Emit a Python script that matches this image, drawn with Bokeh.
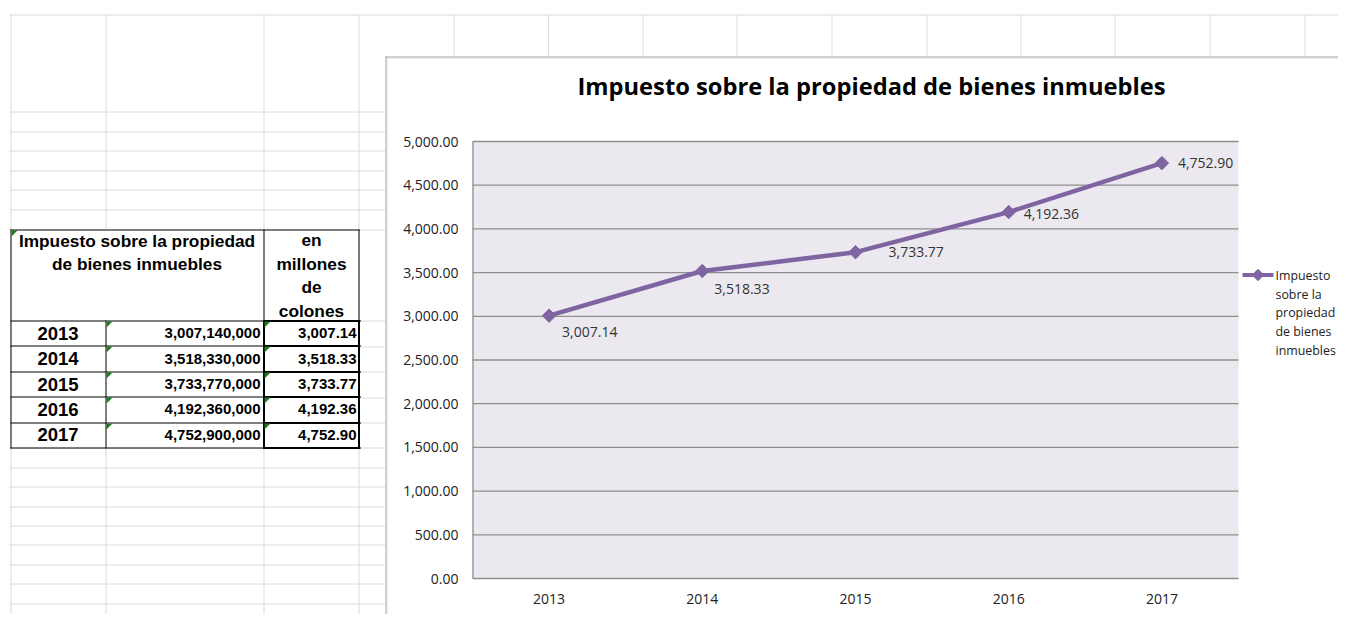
import math
from bokeh.plotting import figure
from bokeh.models import Range1d, ColumnDataSource
from bokeh.core.properties import value
from bokeh.embed import file_html
from bokeh.resources import INLINE

# ---------------- data ----------------
years = [2013, 2014, 2015, 2016, 2017]
colones = [3007140000, 3518330000, 3733770000, 4192360000, 4752900000]
millones = [3007.14, 3518.33, 3733.77, 4192.36, 4752.90]
y_ticks = [0, 500, 1000, 1500, 2000, 2500, 3000, 3500, 4000, 4500, 5000]
chart_title = "Impuesto sobre la propiedad de bienes inmuebles"
legend_text = "Impuesto\nsobre la\npropiedad\nde bienes\ninmuebles"
head_ab = "Impuesto sobre la propiedad\nde bienes inmuebles"
head_c = "en\nmillones\nde\ncolones"

# ---------------- layout (picture pixels) ----------------
FW, FH = 1338, 614                             # figure size
PL, PR, PT, PB = 472, 1238, 141, 578          # plot area
CHX, CHY = 385, 56                             # chart object corner
PURPLE = "#8064A2"
GRID = "#dadada"
CHART_FONT = value("Open Sans")
TABLE_FONT = value("Liberation Sans")

cat_w = (PR - PL) / len(years)
x0 = PL + cat_w / 2
yr_start = years[0] + (0 - x0) / cat_w
yr_end = years[0] + (FW - x0) / cat_w
vpp = y_ticks[-1] / (PB - PT)
val_start = 0 - (FH - PB) * vpp
val_end = y_ticks[-1] + (PT - 0) * vpp

p = figure(width=FW, height=FH,
           x_range=Range1d(0, FW), y_range=Range1d(FH, 0),
           x_axis_type=None, y_axis_type=None,
           output_backend="svg", toolbar_location=None, min_border=0)
p.outline_line_color = None
p.background_fill_color = "white"
p.border_fill_color = "white"
p.extra_x_ranges = {"yr": Range1d(yr_start, yr_end)}
p.extra_y_ranges = {"val": Range1d(val_start, val_end)}

# ---------------- spreadsheet grid ----------------
left_rows = [14, 111, 131, 150, 170, 189, 209, 229, 320, 346, 371, 397, 422,
             447, 467, 486, 506, 525, 544, 564, 583, 603]
left_cols = [10, 105, 263, 358]
top_cols = [453, 547.5, 642, 736, 831, 926, 1020, 1114, 1209, 1304]
p.segment(x0=9, x1=CHX, y0=[r + 0.5 for r in left_rows], y1=[r + 0.5 for r in left_rows],
          line_color=GRID, line_width=1)
p.segment(x0=CHX, x1=FW, y0=14.5, y1=14.5, line_color=GRID, line_width=1)
p.segment(x0=[c + 0.5 for c in left_cols], x1=[c + 0.5 for c in left_cols], y0=14, y1=FH,
          line_color=GRID, line_width=1)
p.segment(x0=[c + 0.5 for c in top_cols], x1=[c + 0.5 for c in top_cols], y0=14, y1=CHY,
          line_color=GRID, line_width=1)

# ---------------- table ----------------
T_L, T_B1, T_C1, T_R = 10, 105, 263, 358
T_TOP, T_HEAD = 229, 320
row_h = (447 - T_HEAD) / len(years)
row_edges = [T_HEAD + i * row_h for i in range(len(years) + 1)]
row_mid = [T_HEAD + (i + 0.5) * row_h for i in range(len(years))]

p.quad(left=T_L, right=T_R, top=T_TOP, bottom=row_edges[-1], fill_color="white", line_color=None)
hl = [T_TOP] + row_edges
p.segment(x0=T_L, x1=T_R + 1, y0=[round(v) + 0.5 for v in hl], y1=[round(v) + 0.5 for v in hl],
          line_color="black", line_width=1)
p.segment(x0=[T_L + 0.5, T_C1 + 0.5, T_R + 0.5], x1=[T_L + 0.5, T_C1 + 0.5, T_R + 0.5],
          y0=T_TOP, y1=row_edges[-1] + 1, line_color="black", line_width=1)
p.segment(x0=T_B1 + 0.5, x1=T_B1 + 0.5, y0=T_HEAD, y1=row_edges[-1] + 1,
          line_color="black", line_width=1)
# thick borders around the "millones" cells
p.segment(x0=T_C1, x1=T_R + 2, y0=[round(v) + 0.5 for v in row_edges],
          y1=[round(v) + 0.5 for v in row_edges], line_color="black", line_width=2)
p.segment(x0=[T_C1 + 0.5, T_R + 0.5], x1=[T_C1 + 0.5, T_R + 0.5], y0=T_HEAD,
          y1=row_edges[-1] + 1, line_color="black", line_width=2)

# green error triangles
tri_x, tri_y = [], []
for cx, cy in [(T_L, T_TOP)] + [(T_B1, round(v)) for v in row_edges[:-1]] + \
        [(T_C1, round(v)) for v in row_edges[:-1]]:
    tri_x.append([cx + 1, cx + 7, cx + 1])
    tri_y.append([cy + 1, cy + 1, cy + 7])
p.patches(tri_x, tri_y, fill_color="#1f7a1f", line_color=None)

p.text(x=[(T_L + T_C1) / 2], y=[252], text=[head_ab], text_align="center",
       text_baseline="middle", text_font=TABLE_FONT, text_font_style="bold",
       text_font_size="17.3px", text_line_height=1.18, text_color="black")
p.text(x=[(T_C1 + T_R) / 2 + 0.5], y=[275], text=[head_c], text_align="center",
       text_baseline="middle", text_font=TABLE_FONT, text_font_style="bold",
       text_font_size="17.3px", text_line_height=1.19, text_color="black")

tsrc = ColumnDataSource(dict(
    ym=row_mid,
    yr=[str(y) for y in years],
    col=[f"{v:,}" for v in colones],
    mil=[f"{v:,.2f}" for v in millones],
))
p.text(x=(T_L + T_B1) / 2, y="ym", text="yr", source=tsrc, text_align="center",
       text_baseline="middle", text_font=TABLE_FONT, text_font_style="bold",
       text_font_size="18.5px", text_color="black")
p.text(x=T_C1 - 3, y="ym", text="col", source=tsrc, text_align="right",
       text_baseline="middle", text_font=TABLE_FONT, text_font_style="bold",
       text_font_size="15px", text_color="black")
p.text(x=T_R - 2, y="ym", text="mil", source=tsrc, text_align="right",
       text_baseline="middle", text_font=TABLE_FONT, text_font_style="bold",
       text_font_size="15px", text_color="black")

# ---------------- chart object ----------------
p.quad(left=CHX, right=FW, top=CHY, bottom=FH, fill_color="white", line_color=None)
p.segment(x0=CHX + 0.5, x1=CHX + 0.5, y0=CHY, y1=FH, line_color="#a0a0a0", line_width=1)
p.segment(x0=CHX, x1=FW, y0=CHY + 0.5, y1=CHY + 0.5, line_color="#a0a0a0", line_width=1)
p.segment(x0=CHX + 1.5, x1=CHX + 1.5, y0=CHY + 1, y1=FH, line_color="#d8d8d8", line_width=1)
p.segment(x0=CHX + 1, x1=FW, y0=CHY + 1.5, y1=CHY + 1.5, line_color="#d8d8d8", line_width=1)

p.text(x=[(577 + 1165) / 2], y=[85], text=[chart_title], text_align="center",
       text_baseline="middle", text_font=CHART_FONT, text_font_style="bold",
       text_font_size="23.7px", text_color="black")

# plot area
p.quad(left=PL, right=PR, top=PT, bottom=PB, fill_color="#ebe9ef", line_color=None)
p.segment(x0=PL, x1=PR, y0=y_ticks, y1=y_ticks, y_range_name="val",
          line_color="#8f8f8f", line_width=1.3)
p.segment(x0=PL + 0.5, x1=PL + 0.5, y0=0, y1=y_ticks[-1], y_range_name="val",
          line_color="#8f8f8f", line_width=1.3)

p.text(x=458, y=y_ticks, text=[f"{t:,.2f}" for t in y_ticks], y_range_name="val",
       text_align="right", text_baseline="middle", text_font=CHART_FONT,
       text_font_size="14px", text_color="#222222")
p.text(x=years, y=598, text=[str(y) for y in years], x_range_name="yr",
       text_align="center", text_baseline="middle", text_font=CHART_FONT,
       text_font_size="14px", text_color="#222222")

# series
p.line(x=years, y=millones, x_range_name="yr", y_range_name="val",
       line_color=PURPLE, line_width=4.5, line_join="round")
p.scatter(x=years, y=millones, x_range_name="yr", y_range_name="val",
          marker="square", angle=math.pi / 4, size=9.5,
          fill_color=PURPLE, line_color=PURPLE)

lab = ColumnDataSource(dict(x=years, y=millones, t=[f"{v:,.2f}" for v in millones],
                            dx=[13, 12, 33, 15, 16], dy=[16, 18, 0, 2, 0]))
p.text(x="x", y="y", text="t", x_offset="dx", y_offset="dy", source=lab,
       x_range_name="yr", y_range_name="val", text_align="left",
       text_baseline="middle", text_font=CHART_FONT, text_font_size="14px",
       text_color="#333333")

# legend
p.line(x=[1242, 1273], y=[274.5, 274.5], line_color=PURPLE, line_width=4)
p.scatter(x=[1257.5], y=[274.5], marker="square", angle=math.pi / 4, size=8,
          fill_color=PURPLE, line_color=PURPLE)
p.text(x=[1275], y=[312.5], text=[legend_text], text_align="left",
       text_baseline="middle", text_font=CHART_FONT, text_font_size="12.4px",
       text_line_height=1.11, text_color="#222222")

open("out.html", "w").write(file_html(p, INLINE))
